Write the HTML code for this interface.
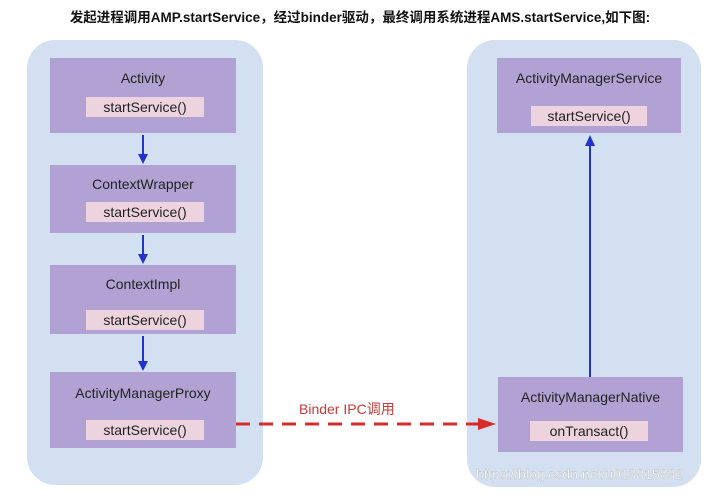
<!DOCTYPE html>
<html><head><meta charset="utf-8"><style>
body{margin:0;width:720px;height:495px;background:#fff;position:relative;overflow:hidden;font-family:"Liberation Sans","Noto Sans CJK SC",sans-serif}
.c{position:absolute;background:#d3e0f1;border-radius:28px}
.b{position:absolute;background:#b2a2d3;text-align:center;font-size:14px;color:#222}
.b .t{position:absolute;left:0;right:0}
.p{position:absolute;background:#ecd3de;font-size:14px;text-align:center;line-height:20px;color:#222}
.title{position:absolute;left:0;width:720px;top:6px;text-align:center;font-weight:bold;font-size:13.5px;color:#111}
</style></head><body>
<div class="title">发起进程调用AMP.startService，经过binder驱动，最终调用系统进程AMS.startService,如下图:</div>
<div class="c" style="left:27px;top:40px;width:236px;height:445px"></div>
<div class="c" style="left:467px;top:40px;width:234px;height:447px"></div>

<div class="b" style="left:50px;top:58px;width:186px;height:75px"><div class="t" style="top:12px">Activity</div><div class="p" style="left:36px;top:39px;width:118px">startService()</div></div>
<div class="b" style="left:50px;top:165px;width:186px;height:68px"><div class="t" style="top:11px">ContextWrapper</div><div class="p" style="left:36px;top:37px;width:118px">startService()</div></div>
<div class="b" style="left:50px;top:265px;width:186px;height:69px"><div class="t" style="top:11px">ContextImpl</div><div class="p" style="left:36px;top:45px;width:118px">startService()</div></div>
<div class="b" style="left:50px;top:372px;width:186px;height:76px"><div class="t" style="top:13px">ActivityManagerProxy</div><div class="p" style="left:36px;top:48px;width:118px">startService()</div></div>

<div class="b" style="left:497px;top:58px;width:184px;height:75px"><div class="t" style="top:12px">ActivityManagerService</div><div class="p" style="left:34px;top:48px;width:116px">startService()</div></div>
<div class="b" style="left:498px;top:377px;width:185px;height:75px"><div class="t" style="top:12px">ActivityManagerNative</div><div class="p" style="left:32px;top:44px;width:118px">onTransact()</div></div>

<svg width="720" height="495" style="position:absolute;left:0;top:0">
<g stroke="#2233cc" stroke-width="2" fill="#2233cc">
<line x1="143" y1="135" x2="143" y2="156"/><polygon points="138,154 148,154 143,164" stroke="none"/>
<line x1="143" y1="235" x2="143" y2="256"/><polygon points="138,254 148,254 143,264" stroke="none"/>
<line x1="143" y1="336" x2="143" y2="363"/><polygon points="138,361 148,361 143,371" stroke="none"/>
<line x1="590" y1="377" x2="590" y2="144"/><polygon points="585,146 595,146 590,135" stroke="none"/>
</g>
<line x1="236" y1="424" x2="482" y2="424" stroke="#d62b2b" stroke-width="3" stroke-dasharray="14,9"/>
<polygon points="478,418 496,424 478,430" fill="#d62b2b"/>
<text x="299" y="414" font-size="14" fill="#c83a3a" font-family="Liberation Sans,Noto Sans CJK SC,sans-serif">Binder IPC调用</text>
<text x="476" y="479" font-size="14" fill="#fff" stroke="#bbb" stroke-width="0.4" font-family="Liberation Sans,sans-serif">https://blog.csdn.net/u013815832</text>
</svg>
</body></html>
